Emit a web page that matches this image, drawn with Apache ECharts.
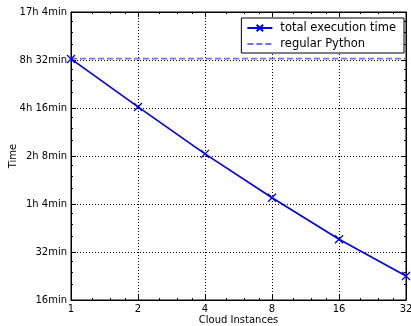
<!DOCTYPE html>
<html>
<head>
<meta charset="utf-8">
<script src="https://cdn.jsdelivr.net/npm/echarts@6/dist/echarts.min.js"></script>
<style>
  html, body { margin: 0; padding: 0; background: #fff; }
  #main { width: 411px; height: 326px; }
</style>
</head>
<body>
<div id="main"></div>
<script>
// cloud instances (x) and measured time in minutes (y)
const instances = [1, 2, 4, 8, 16, 32]
const totalMinutes = [520, 260, 132, 70, 38.5, 22.6]
const pythonMinutes = 522

const xTicks = [1, 2, 4, 8, 16, 32]
const xTickLabels = ['1', '2', '4', '8', '16', '32']
const yTicks = [16, 32, 64, 128, 256, 512, 1024]
const yTickLabels = ['16min', '32min', '1h 4min', '2h 8min', '4h 16min', '8h 32min', '17h 4min']

const fontFamily = 'DejaVu Sans'
const crossPath = 'path://M0,0L10,10M10,0L0,10'

const lookup = (ticks, labels) => (v) => {
    const i = ticks.findIndex(t => Math.abs(t - v) < 1e-6 * t)
    return i >= 0 ? labels[i] : ''
}

const chart = echarts.init(document.getElementById('main'), null, { renderer: 'canvas' })

const baseAxis = {
    axisLine: { show: true, lineStyle: { color: '#000', width: 1 } },
    axisTick: { show: true, inside: true, length: 5, lineStyle: { color: '#000' } },
    minorTick: { show: true, splitNumber: 4, length: 2, lineStyle: { color: '#000' } },
    splitLine: { show: false },
    minorSplitLine: { show: false }
}

const option = {
    backgroundColor: '#fff',
    animation: false,
    textStyle: { fontFamily: fontFamily },
    grid: {
        left: 71, right: 5, top: 12, bottom: 26,
        outerBoundsMode: 'none',
        containLabel: false,
        show: true, borderColor: '#000', borderWidth: 1
    },
    legend: {
        orient: 'vertical',
        right: 7,
        top: 18,
        padding: [4, 8, 3, 5],
        itemGap: 4,
        itemWidth: 25,
        itemHeight: 8,
        borderColor: '#000',
        borderWidth: 1,
        borderRadius: 0,
        backgroundColor: '#fff',
        textStyle: { fontSize: 11.5, color: '#000', fontFamily: fontFamily, padding: [0, 0, 0, 3] },
        data: [
            { name: 'total execution time' },
            { name: 'regular Python', itemStyle: { opacity: 0 } }
        ]
    },
    xAxis: [
        {
            ...baseAxis,
            type: 'log', logBase: 2, min: 1, max: 32,
            name: 'Cloud Instances',
            nameLocation: 'middle',
            nameGap: 15,
            nameMoveOverlap: false,
            nameTextStyle: { fontSize: 10, color: '#000', verticalAlign: 'top' },
            axisLabel: {
                fontSize: 10, color: '#000', margin: 4,
                formatter: lookup(xTicks, xTickLabels)
            },
            splitLine: { show: true, lineStyle: { color: '#000', type: [1, 2], width: 1 } }
        },
        {
            ...baseAxis,
            type: 'log', logBase: 2, min: 1, max: 32,
            position: 'top',
            axisLabel: { show: false }
        }
    ],
    yAxis: [
        {
            ...baseAxis,
            type: 'log', logBase: 2, min: 16, max: 1024,
            name: 'Time',
            nameLocation: 'middle',
            nameGap: 53,
            nameMoveOverlap: false,
            nameTextStyle: { fontSize: 10, color: '#000' },
            axisLabel: {
                fontSize: 10, color: '#000', margin: 4,
                formatter: lookup(yTicks, yTickLabels)
            },
            splitLine: { show: true, lineStyle: { color: '#000', type: [1, 2], width: 1 } }
        },
        {
            ...baseAxis,
            type: 'log', logBase: 2, min: 16, max: 1024,
            position: 'right',
            axisLabel: { show: false }
        }
    ],
    series: [
        {
            name: 'total execution time',
            type: 'line',
            data: instances.map((x, i) => [x, totalMinutes[i]]),
            symbol: crossPath,
            symbolSize: 8,
            showAllSymbol: true,
            lineStyle: { color: '#0000ff', width: 1.7 },
            itemStyle: { color: '#0000ff', borderColor: '#0000ff', borderWidth: 1.3 },
            z: 3
        },
        {
            name: 'regular Python',
            type: 'line',
            data: [[instances[0], pythonMinutes], [instances[instances.length - 1], pythonMinutes]],
            symbol: 'none',
            lineStyle: { color: '#7070ff', width: 1.6, type: [6, 3] },
            itemStyle: { color: '#7070ff' },
            z: 2
        }
    ]
}

chart.setOption(option)
</script>
</body>
</html>
